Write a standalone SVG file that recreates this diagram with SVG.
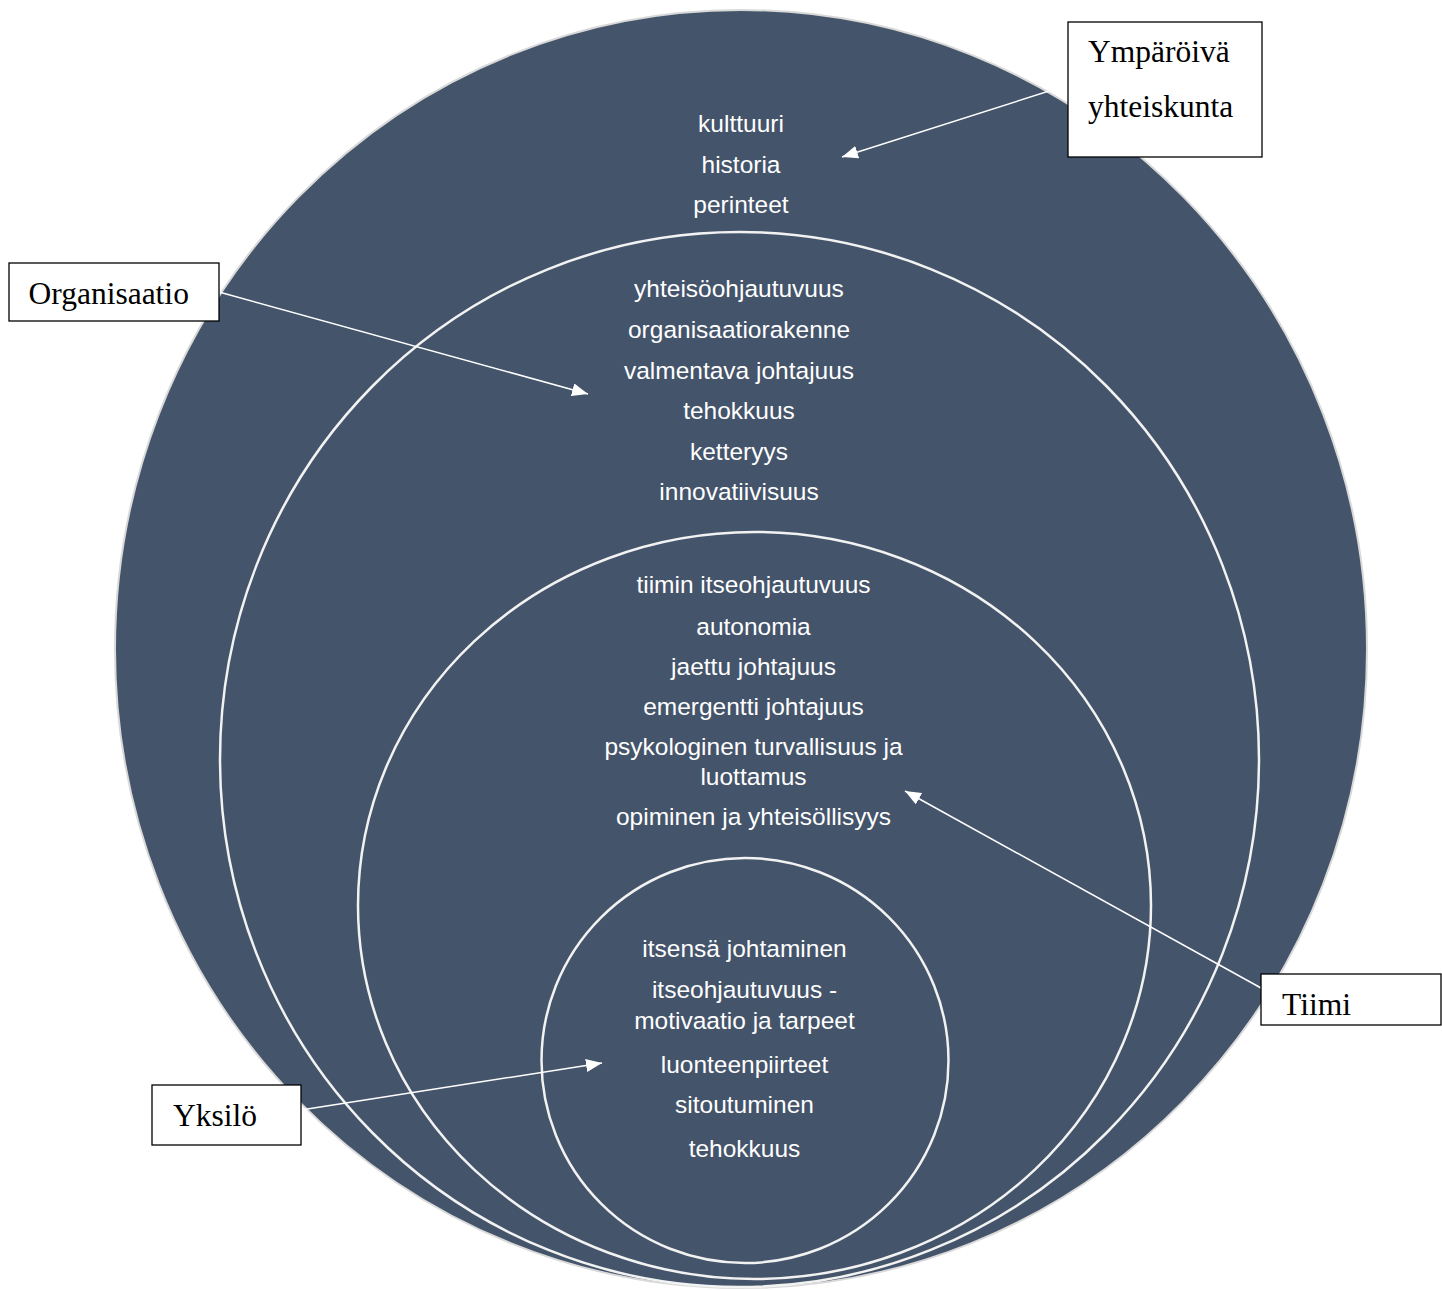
<svg xmlns="http://www.w3.org/2000/svg" width="1442" height="1290" viewBox="0 0 1442 1290">
  <style>
    .ring { fill: none; stroke: #f2f2f2; stroke-width: 2.5; }
    .inner { font-family: "Liberation Sans", Arial, sans-serif; font-size: 24.5px; fill: #ffffff; text-anchor: middle; }
    .box { fill: #ffffff; stroke: #000000; stroke-width: 1.3; }
    .lbl { font-family: "Liberation Serif", "Times New Roman", serif; font-size: 31.5px; fill: #000000; }
    .conn { stroke: #ffffff; stroke-width: 1.5; fill: none; marker-end: url(#arrow); }
  </style>
  <defs>
    <marker id="arrow" viewBox="0 0 16 13" refX="16" refY="6.5" markerWidth="16" markerHeight="13" markerUnits="userSpaceOnUse" orient="auto">
      <path d="M0,0 L16,6.5 L0,13 Z" fill="#ffffff"/>
    </marker>
  </defs>
  <rect x="0" y="0" width="1442" height="1290" fill="#ffffff"/>

  <g id="circle-yhteiskunta">
    <ellipse cx="741" cy="649" rx="626" ry="639" fill="#44546a" stroke="#d9d9d9" stroke-width="2"/>
    <text class="inner" x="741" y="132">kulttuuri</text>
    <text class="inner" x="741" y="173">historia</text>
    <text class="inner" x="741" y="213">perinteet</text>
  </g>

  <g id="circle-organisaatio">
    <ellipse class="ring" cx="739.5" cy="759.5" rx="519.5" ry="527.5"/>
    <text class="inner" x="739" y="297">yhteisöohjautuvuus</text>
    <text class="inner" x="739" y="338">organisaatiorakenne</text>
    <text class="inner" x="739" y="379">valmentava johtajuus</text>
    <text class="inner" x="739" y="419">tehokkuus</text>
    <text class="inner" x="739" y="460">ketteryys</text>
    <text class="inner" x="739" y="500">innovatiivisuus</text>
  </g>

  <g id="circle-tiimi">
    <ellipse class="ring" cx="754.5" cy="905.5" rx="396.5" ry="373.5"/>
    <text class="inner" x="753.5" y="593">tiimin itseohjautuvuus</text>
    <text class="inner" x="753.5" y="635">autonomia</text>
    <text class="inner" x="753.5" y="675">jaettu johtajuus</text>
    <text class="inner" x="753.5" y="715">emergentti johtajuus</text>
    <text class="inner" x="753.5" y="755">psykologinen turvallisuus ja</text>
    <text class="inner" x="753.5" y="785">luottamus</text>
    <text class="inner" x="753.5" y="825">opiminen ja yhteisöllisyys</text>
  </g>

  <g id="circle-yksilo">
    <ellipse class="ring" cx="745" cy="1060.5" rx="203.5" ry="202.5"/>
    <text class="inner" x="744.5" y="957">itsensä johtaminen</text>
    <text class="inner" x="744.5" y="998">itseohjautuvuus -</text>
    <text class="inner" x="744.5" y="1029">motivaatio ja tarpeet</text>
    <text class="inner" x="744.5" y="1073">luonteenpiirteet</text>
    <text class="inner" x="744.5" y="1113">sitoutuminen</text>
    <text class="inner" x="744.5" y="1157">tehokkuus</text>
  </g>

  <g id="connectors">
    <line class="conn" x1="1068" y1="85" x2="842" y2="157"/>
    <line class="conn" x1="219" y1="292" x2="588" y2="394"/>
    <line class="conn" x1="1261" y1="988" x2="905" y2="791"/>
    <line class="conn" x1="301" y1="1110" x2="602" y2="1063"/>
  </g>

  <g id="label-ymparoiva">
    <rect class="box" x="1068" y="22" width="194" height="135"/>
    <text class="lbl" x="1088" y="62">Ympäröivä</text>
    <text class="lbl" x="1088" y="117">yhteiskunta</text>
  </g>

  <g id="label-organisaatio">
    <rect class="box" x="9" y="263" width="210" height="58"/>
    <text class="lbl" x="28.5" y="304">Organisaatio</text>
  </g>

  <g id="label-tiimi">
    <rect class="box" x="1261" y="974" width="180" height="51"/>
    <text class="lbl" x="1282" y="1015">Tiimi</text>
  </g>

  <g id="label-yksilo">
    <rect class="box" x="152" y="1085" width="149" height="60"/>
    <text class="lbl" x="173" y="1126">Yksilö</text>
  </g>
</svg>
